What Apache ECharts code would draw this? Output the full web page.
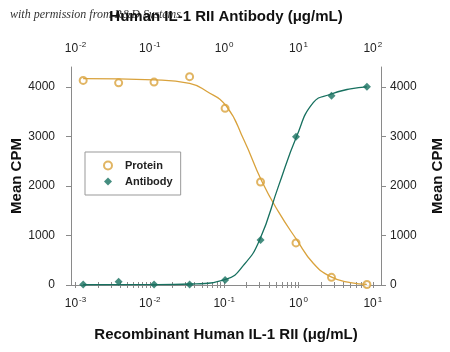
<!DOCTYPE html>
<html>
<head>
<meta charset="utf-8">
<script src="https://cdn.jsdelivr.net/npm/echarts@6/dist/echarts.min.js"></script>
<style>
  html, body { margin: 0; padding: 0; background: #fff; }
  #chart { width: 450px; height: 352px; }
</style>
</head>
<body>
<div id="chart"></div>
<script>
// recombinant protein (bottom axis), 3-fold dilutions
var proteinConc = [0.00127, 0.00381, 0.0114, 0.0343, 0.103, 0.309, 0.926, 2.78, 8.33];
var proteinCpm = [4130, 4080, 4095, 4205, 3565, 2080, 850, 155, 10];
// antibody (top axis)
var antibodyConc = [0.0127, 0.0381, 0.114, 0.343, 1.03, 3.09, 9.26, 27.8, 83.3];
var antibodyCpm = [10, 65, 10, 10, 100, 910, 2990, 3820, 4000];

// fitted curves
var proteinFitConc = [0.00127, 0.0114, 0.0343, 0.058, 0.107, 0.184, 0.32, 0.537, 0.94, 1.58, 2.7, 5.0, 8.3];
var proteinFitCpm = [4165, 4140, 4070, 3910, 3610, 2930, 2100, 1480, 920, 440, 168, 47, 14];
var antibodyFitConc = [0.0127, 0.1, 0.354, 1.07, 1.84, 3.0, 5.37, 9.4, 15.8, 27, 50, 83];
var antibodyFitCpm = [5, 8, 20, 120, 405, 910, 1990, 2990, 3680, 3850, 3960, 4000];

var bottomMajor = [0.001, 0.01, 0.1, 1, 10];
var topMajor = [0.01, 0.1, 1, 10, 100];
var yTicks = [0, 1000, 2000, 3000, 4000];

var FONT = '"Liberation Sans", Arial, sans-serif';
var ORANGE = '#D9A23C';
var TEAL = '#17705F';
var AXIS = '#8a8a8a';

function logTicks(majors) {
    var out = [];
    majors.forEach(function (m) {
        for (var k = 1; k < 10; k++) out.push(m * k);
    });
    return out;
}

function powLabel(v) {
    var e = Math.round(Math.log10(v));
    return '{b|10}{s|' + e + '}';
}

var powRich = {
    b: { fontSize: 12, fontFamily: FONT, color: '#222' },
    s: { fontSize: 8, fontFamily: FONT, color: '#222', padding: [0, 0, 7, 1] }
};

var titleStyle = { fontFamily: FONT, fontSize: 15, fontWeight: 'bold', color: '#111' };

function logAxis(pos, min, max, majors, name, gap, margin) {
    return {
        type: 'log',
        logBase: 10,
        position: pos,
        min: min,
        max: max,
        name: name,
        nameLocation: 'middle',
        nameGap: gap,
        nameTextStyle: titleStyle,
        axisLine: { show: true, lineStyle: { color: AXIS, width: 1 } },
        axisTick: { show: true, length: 3, customValues: logTicks(majors), lineStyle: { color: AXIS } },
        minorTick: { show: false },
        axisLabel: { customValues: majors, margin: margin, formatter: powLabel, rich: powRich },
        splitLine: { show: false }
    };
}

function cpmAxis(pos, margin) {
    return {
        type: 'value',
        position: pos,
        min: 0,
        max: 4400,
        interval: 1000,
        name: 'Mean CPM',
        nameLocation: 'middle',
        nameRotate: 90,
        nameMoveOverlap: false,
        nameGap: pos === 'left' ? 47 : 49,
        nameTextStyle: titleStyle,
        axisLine: { show: true, lineStyle: { color: AXIS, width: 1 } },
        axisTick: { show: true, length: 5, customValues: yTicks, lineStyle: { color: AXIS } },
        axisLabel: {
            customValues: yTicks, margin: margin, fontFamily: FONT, fontSize: 12, color: '#222',
            formatter: function (v) { return String(v); }
        },
        splitLine: { show: false }
    };
}

function pairs(xs, ys) {
    return xs.map(function (x, i) { return [x, ys[i]]; });
}

var chart = echarts.init(document.getElementById('chart'));
chart.setOption({
    animation: false,
    backgroundColor: '#fff',
    grid: { left: 71, right: 69, top: 67, bottom: 67, containLabel: false, outerBoundsMode: 'none' },
    graphic: [{
        type: 'text',
        left: 10,
        top: 9,
        z: -1,
        style: {
            text: 'with permission from R&D Systems',
            font: 'italic 12px "Liberation Serif", serif',
            fill: '#333'
        }
    }],
    legend: {
        orient: 'vertical',
        left: 85,
        top: 152,
        backgroundColor: '#fff',
        borderColor: '#999',
        borderWidth: 1,
        borderRadius: 0,
        padding: [8, 8, 8, 18],
        itemGap: 5,
        itemWidth: 8,
        itemHeight: 8,
        data: ['Protein', 'Antibody'],
        textStyle: { fontFamily: FONT, fontSize: 11, fontWeight: 'bold', color: '#222', padding: [0, 0, 0, 8] }
    },
    xAxis: [
        logAxis('bottom', Math.pow(10, -3.06), Math.pow(10, 1.11), bottomMajor,
            'Recombinant Human IL-1 RII (μg/mL)', 42, 11),
        logAxis('top', Math.pow(10, -2.06), Math.pow(10, 2.11), topMajor,
            'Human IL-1 RII Antibody (μg/mL)', 43, 11)
    ],
    yAxis: [cpmAxis('left', 16), cpmAxis('right', 9)],
    series: [
        {
            name: 'Protein fit',
            type: 'line',
            xAxisIndex: 0,
            smooth: true,
            showSymbol: false,
            lineStyle: { color: ORANGE, width: 1.3 },
            data: pairs(proteinFitConc, proteinFitCpm)
        },
        {
            name: 'Antibody fit',
            type: 'line',
            xAxisIndex: 1,
            smooth: true,
            showSymbol: false,
            lineStyle: { color: TEAL, width: 1.3 },
            data: pairs(antibodyFitConc, antibodyFitCpm)
        },
        {
            name: 'Protein',
            type: 'scatter',
            xAxisIndex: 0,
            symbol: 'emptyCircle',
            symbolSize: 7,
            itemStyle: { color: ORANGE, borderColor: ORANGE, borderWidth: 1 },
            data: pairs(proteinConc, proteinCpm)
        },
        {
            name: 'Antibody',
            type: 'scatter',
            xAxisIndex: 1,
            symbol: 'diamond',
            symbolSize: 8,
            itemStyle: { color: TEAL },
            data: pairs(antibodyConc, antibodyCpm)
        }
    ]
});
</script>
</body>
</html>
